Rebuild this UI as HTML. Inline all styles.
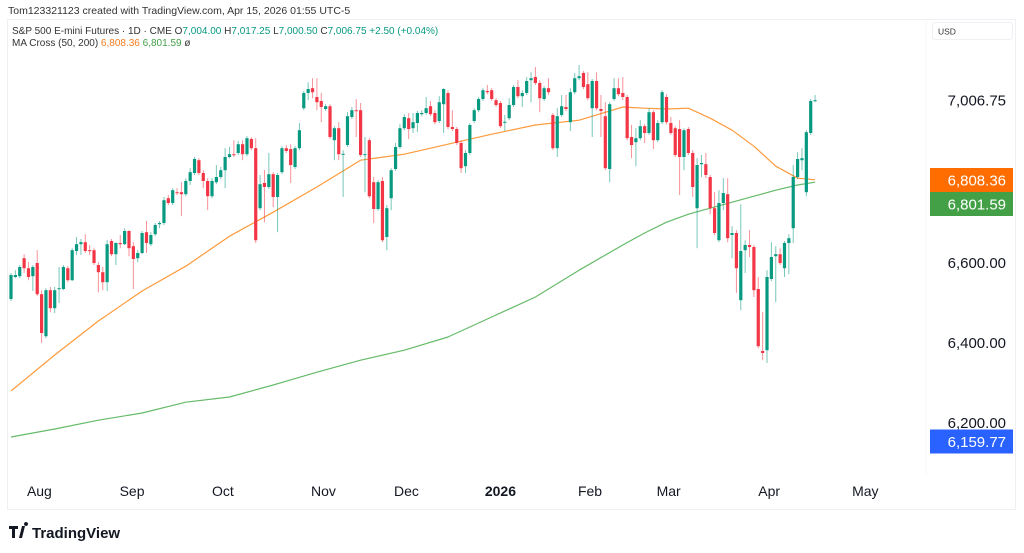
<!DOCTYPE html>
<html><head><meta charset="utf-8"><style>
html,body{margin:0;padding:0;background:#fff;width:1024px;height:553px;overflow:hidden;font-family:"Liberation Sans",sans-serif;}
svg text{font-family:"Liberation Sans",sans-serif;}
</style></head><body>
<svg id="chart" width="1024" height="553" viewBox="0 0 1024 553" xmlns="http://www.w3.org/2000/svg">
<text x="8" y="14" font-size="10.5" fill="#333">Tom123321123 created with TradingView.com, Apr 15, 2026 01:55 UTC-5</text>
<rect x="7.5" y="19.5" width="1008" height="490" fill="none" stroke="#eef0f3"/>
<line x1="926" y1="20" x2="926" y2="475" stroke="#f7f7f7"/>
<text x="12" y="34" font-size="10" fill="#333">S&amp;P 500 E-mini Futures · 1D · CME  O<tspan fill="#089981">7,004.00</tspan>  H<tspan fill="#089981">7,017.25</tspan>  L<tspan fill="#089981">7,000.50</tspan>  C<tspan fill="#089981">7,006.75</tspan>  <tspan fill="#089981">+2.50 (+0.04%)</tspan></text>
<text x="12" y="46" font-size="10" fill="#333">MA Cross (50, 200)  <tspan fill="#f57c1f">6,808.36</tspan>  <tspan fill="#43a047">6,801.59</tspan>  ø</text>
<rect x="932.5" y="22.5" width="80" height="17" rx="3" fill="#fff" stroke="#eef0f3"/>
<text x="938" y="34.5" font-size="8.5" fill="#333">USD</text>
<g id="ticks"></g>
<g id="ma"></g>
<g id="candles"></g>
<g id="labels"></g>
<g id="months"></g>
<g>
<path d="M9 526h9v3h-3v9h-3v-9h-3z M19 538l3-12h3l-3 12z M26 526a2 2 0 1 1 0.01 0" fill="#131722"/>
<text x="32" y="538" font-size="15" font-weight="bold" fill="#131722">TradingView</text>
</g>
</svg>
<script>
var opens=[6510,6565,6567,6612,6587,6567,6600,6522,6417,6532,6487,6535,6535,6587,6557,6630,6647,6652,6632,6632,6595,6577,6552,6655,6622,6650,6647,6680,6642,6612,6625,6677,6647,6672,6697,6700,6762,6750,6777,6777,6772,6805,6825,6857,6825,6805,6767,6802,6815,6832,6865,6872,6875,6897,6872,6910,6887,6737,6800,6790,6822,6765,6827,6887,6885,6840,6887,6987,7025,7037,7015,7005,6985,6992,6907,6937,6872,6895,6965,6982,6982,6870,6907,6802,6735,6805,6665,6762,6835,6890,6937,6962,6937,6950,6972,6975,6992,6975,6955,6997,7025,6940,6935,6900,6842,6875,6955,6982,7010,7030,7032,7007,7000,6952,6962,6995,7040,7017,7025,7057,7065,7050,7010,7037,6970,6887,6970,6990,6952,7027,7062,7075,7047,6987,7055,6985,6967,6835,7010,7037,7025,7015,6915,6902,6912,6942,6925,6977,6907,6952,7015,6950,6937,6935,6865,6935,6875,6737,6847,6847,6815,6737,6657,6750,6772,6670,6675,6507,6632,6645,6640,6535,6380,6382,6560,6617,6622,6587,6650,6687,6815,6857,6777,6925,7005];
var closes=[6570,6570,6590,6587,6565,6590,6522,6425,6532,6487,6532,6537,6590,6557,6632,6647,6652,6630,6630,6600,6577,6552,6647,6622,6650,6647,6680,6637,6610,6625,6675,6650,6670,6695,6700,6757,6750,6782,6775,6772,6805,6827,6860,6825,6805,6767,6805,6815,6832,6865,6872,6870,6897,6872,6912,6887,6657,6797,6790,6822,6765,6820,6887,6880,6845,6887,6932,7025,7035,7027,7002,6990,6992,6915,6937,6872,6873,6967,6982,6980,6870,6872,6767,6735,6802,6657,6737,6832,6890,6937,6965,6935,6952,6975,6975,6987,6972,6952,7002,7035,6940,6935,6900,6837,6875,6945,6982,7010,7032,7027,7010,6995,6942,6953,6995,7040,7017,7025,7055,7062,7050,7012,7037,7027,6887,6967,6992,6985,7027,7062,7067,7040,7012,7055,6987,6980,6837,6997,7037,7022,7015,6912,6895,6912,6942,6925,6977,6907,6950,7027,6952,6925,6870,6865,6932,6875,6790,6845,6850,6820,6737,6675,6750,6775,6662,6675,6587,6630,6645,6640,6532,6392,6375,6565,6615,6622,6600,6650,6662,6815,6860,6862,6927,7005,7007];
var highs=[6575,6582,6595,6622,6602,6595,6632,6532,6537,6540,6540,6590,6595,6592,6637,6665,6660,6672,6645,6637,6602,6590,6657,6660,6652,6670,6687,6682,6652,6632,6680,6705,6677,6700,6705,6765,6770,6787,6787,6802,6812,6837,6865,6862,6832,6812,6812,6845,6840,6887,6890,6907,6905,6907,6917,6915,6912,6820,6832,6875,6827,6825,6892,6895,6897,6892,6950,7030,7052,7062,7062,7025,6997,6997,6942,6952,6882,6977,6990,7010,7000,6915,6912,6815,6807,6815,6745,6837,6900,6947,6972,6975,6975,6980,6982,7015,7005,6982,7017,7037,7032,6982,6940,6907,6882,6950,6987,7015,7037,7045,7037,7012,7005,6970,7012,7045,7057,7032,7065,7077,7090,7057,7042,7062,6975,6987,7020,7020,7037,7075,7095,7080,7077,7060,7077,7020,7002,7002,7062,7062,7065,7020,6945,6937,6957,6947,6987,6982,6957,7032,7022,6965,6942,6957,6937,6940,6882,6862,6870,6875,6820,6777,6782,6812,6812,6692,6682,6747,6657,6682,6645,6565,6477,6582,6652,6642,6637,6655,6672,6845,6877,6887,6932,7010,7020];
var lows=[6505,6562,6562,6575,6557,6530,6517,6400,6412,6477,6475,6500,6532,6552,6555,6620,6620,6625,6620,6595,6527,6532,6530,6617,6595,6637,6645,6617,6535,6602,6622,6625,6642,6667,6687,6695,6745,6745,6770,6717,6767,6795,6820,6820,6787,6732,6762,6797,6810,6787,6862,6865,6870,6857,6867,6882,6650,6732,6702,6785,6740,6677,6822,6875,6800,6835,6882,6982,7007,7012,6982,6952,6980,6910,6857,6857,6765,6890,6960,6915,6865,6777,6762,6700,6730,6652,6632,6732,6830,6885,6932,6910,6925,6927,6967,6970,6967,6947,6950,6925,6935,6930,6895,6825,6825,6870,6950,6977,7005,7022,7005,6990,6937,6930,6957,6990,7012,6990,7020,7002,7045,6977,7005,7020,6882,6865,6965,6980,6930,7022,7057,7035,7007,6915,6982,6915,6832,6802,7005,7017,7007,6907,6862,6842,6907,6900,6920,6885,6902,6947,6947,6920,6865,6770,6832,6870,6765,6637,6815,6812,6722,6670,6652,6732,6652,6612,6525,6482,6575,6615,6515,6387,6357,6350,6555,6502,6595,6565,6572,6650,6810,6832,6767,6920,7002];
var maIdx=[0,10,20,30,40,50,60,70,80,90,100,110,120,130,140,145,150,155,160,165,170,175,180,184];
var ma50=[6280,6370,6455,6530,6592,6667,6727,6790,6857,6872,6897,6922,6945,6957,6990,6987,6985,6987,6962,6932,6892,6842,6812,6808];
var ma200=[6165,6185,6207,6225,6252,6265,6295,6327,6357,6382,6415,6465,6515,6582,6645,6675,6702,6722,6737,6752,6767,6782,6795,6802];
var priceTicks=[6200,6400,6600];
var months=["Aug","Sep","Oct","Nov","Dec","2026","Feb","Mar","Apr","May"];
var monthIdx=[6.5,27.7,48.5,71.5,90.5,112,132.5,150.5,173.5,195.5];

var NS="http://www.w3.org/2000/svg";
function yS(p){return 343-(p-6400)*0.4;}
function xS(i){return 11+i*4.37;}
function mk(t,a){var e=document.createElementNS(NS,t);for(var k in a)e.setAttribute(k,a[k]);return e;}
var gC=document.getElementById('candles');
for(var i=0;i<opens.length;i++){
  var up=closes[i]>=opens[i];var col=up?'#089981':'#f23645';
  var w=mk('line',{x1:xS(i),x2:xS(i),y1:yS(highs[i]),y2:yS(lows[i]),stroke:col,'stroke-width':1,'stroke-opacity':0.55});
  
  
  gC.appendChild(w);
  var t=yS(Math.max(opens[i],closes[i])),b=yS(Math.min(opens[i],closes[i]));
  var r=mk('rect',{x:xS(i)-1.6,y:t,width:3.2,height:Math.max(1,b-t),fill:col});
  
  
  gC.appendChild(r);
}
var gM=document.getElementById('ma');
function line(arr,col,name){
  var d='';for(var j=0;j<arr.length;j++){d+=(j?'L':'M')+xS(maIdx[j]).toFixed(1)+' '+yS(arr[j]).toFixed(1);}
  var p=mk('path',{d:d,fill:'none',stroke:col,'stroke-width':1.2,'stroke-linejoin':'round'});
  
  
  gM.appendChild(p);
}
line(ma200,'#66bb6a','ma200-line');
line(ma50,'#ff9a3c','ma50-line');
var gL=document.getElementById('labels');
function ptxt(y,s,name){var t=mk('text',{x:1006,y:y+5,'font-size':15,'text-anchor':'end',fill:'#131722'});t.textContent=s;


gL.appendChild(t);}
priceTicks.forEach(function(p){ptxt(yS(p),p.toLocaleString('en-US',{minimumFractionDigits:2}),'price-tick');});
ptxt(yS(7006.75),'7,006.75','last-price-tick');
function box(y,col,s,name){var r=mk('rect',{x:930,y:y-12,width:83,height:24,fill:col});


gL.appendChild(r);
var t=mk('text',{x:1006,y:y+5.5,'font-size':15,'text-anchor':'end',fill:'#fff'});t.textContent=s;


gL.appendChild(t);}
box(180,'#ff6d00','6,808.36','ma50-price-label');
box(204,'#43a047','6,801.59','ma200-price-label');
box(441.5,'#2962ff','6,159.77','blue-price-label');
var gT=document.getElementById('months');
for(var m=0;m<months.length;m++){
  var t=mk('text',{x:xS(monthIdx[m]),y:496,'font-size':14,'text-anchor':'middle',fill:'#131722','font-weight':months[m]==='2026'?'bold':'normal'});
  t.textContent=months[m];
  
  
  gT.appendChild(t);
}
</script>
</body></html>
